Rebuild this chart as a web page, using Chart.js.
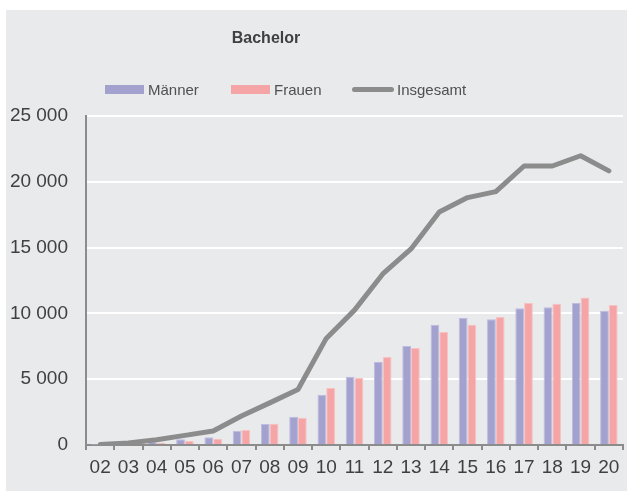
<!DOCTYPE html>
<html>
<head>
<meta charset="utf-8">
<script src="https://cdn.jsdelivr.net/npm/chart.js@4"></script>
<style>
  html, body { margin:0; padding:0; background:#fff; }
  body { width:627px; height:491px; position:relative; overflow:hidden; font-family:"Liberation Sans", Arial, sans-serif; }
  #bg { position:absolute; left:6px; top:10px; width:621px; height:481px; background:#e9eaec; }
  #wrap { position:absolute; left:0; top:0; width:627px; height:491px; }
  #titel { position:absolute; top:29px; left:166px; width:200px; text-align:center; font-weight:bold; font-size:16px; color:#404040; }
  .leg { position:absolute; top:80px; font-size:15px; color:#505050; line-height:19px; white-space:nowrap; }
  .sw { position:absolute; top:5px; left:-43px; width:39px; height:9px; }
  .ln { position:absolute; top:7px; left:-45px; width:42px; height:5px; border-radius:3px; }
</style>
</head>
<body>
<div id="bg"></div>
<div id="wrap"><canvas id="chart" width="627" height="491"></canvas></div>
<div id="titel">Bachelor</div>
<div class="leg" style="left:148px"><span class="sw" style="background:#a3a2cf"></span>Männer</div>
<div class="leg" style="left:274px"><span class="sw" style="background:#f5a5a5"></span>Frauen</div>
<div class="leg" style="left:397px"><span class="ln" style="background:#8c8c8c"></span>Insgesamt</div>
<script>
// Daten
const jahre = ["02","03","04","05","06","07","08","09","10","11","12","13","14","15","16","17","18","19","20"];
const maenner = [20, 90, 230, 430, 580, 1090, 1600, 2150, 3820, 5180, 6310, 7520, 9140, 9650, 9550, 10390, 10460, 10790, 10210];
const frauen = [10, 60, 170, 300, 480, 1140, 1620, 2075, 4330, 5115, 6690, 7370, 8590, 9140, 9730, 10790, 10740, 11200, 10640];
const insgesamt = [30, 150, 400, 730, 1060, 2200, 3200, 4220, 8100, 10250, 13000, 14900, 17700, 18800, 19250, 21200, 21200, 21980, 20830];
const yTicks = [0, 5000, 10000, 15000, 20000, 25000];

function tausender(v){ return String(v).replace(/\B(?=(\d{3})+(?!\d))/g, " "); }

const grau = "#8c8c8c";
const schrift = { family:"'Liberation Sans', Arial, sans-serif", size:19 };

new Chart(document.getElementById("chart"), {
  type: "bar",
  data: {
    labels: jahre,
    datasets: [
      { type:"line", label:"Insgesamt", data:insgesamt, borderColor:grau, backgroundColor:grau,
        borderWidth:5, pointRadius:0, tension:0, order:0, borderCapStyle:"round", borderJoinStyle:"round" },
      { label:"Männer", data:maenner, backgroundColor:"#a3a2cf", borderColor:"#bdbce0", borderWidth:1, order:1 },
      { label:"Frauen", data:frauen, backgroundColor:"#f5a5a5", borderColor:"#f8c2c2", borderWidth:1, order:1 }
    ]
  },
  options: {
    responsive:false,
    animation:false,
    layout:{ padding:{ top:116, right:4, bottom:0, left:0 } },
    plugins:{ legend:{ display:false }, title:{ display:false }, tooltip:{ enabled:false } },
    datasets:{ bar:{ categoryPercentage:0.62, barPercentage:1 } },
    scales:{
      x:{
        offset:true,
        grid:{ display:true, drawOnChartArea:false, drawTicks:true, tickLength:5, color:grau, lineWidth:2, offset:true },
        border:{ color:grau, width:2 },
        ticks:{ font:schrift, color:"#404040", padding:6, maxRotation:0, autoSkip:false },
        afterFit: s => { s.height = 46; }
      },
      y:{
        min:0, max:25000,
        afterBuildTicks: s => { s.ticks = yTicks.map(v => ({ value:v })); },
        grid:{ color:"#ffffff", lineWidth:2, drawTicks:false },
        border:{ color:grau, width:2 },
        ticks:{ font:schrift, color:"#404040", padding:18, callback: v => tausender(v) },
        afterFit: s => { s.width = 86; }
      }
    }
  }
});
</script>
</body>
</html>
